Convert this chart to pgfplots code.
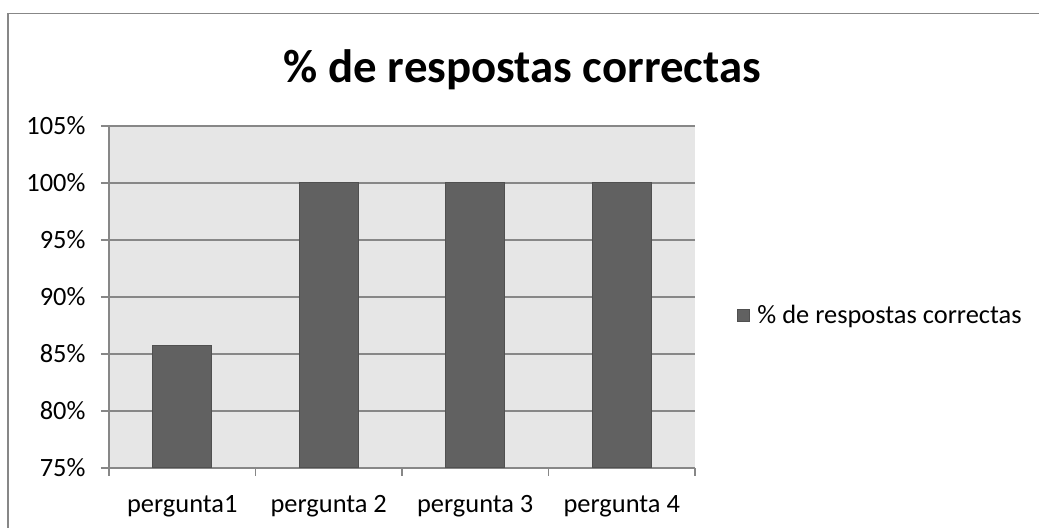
\documentclass[border=0pt]{standalone}
\usepackage{fontspec}
\setmainfont{Carlito}
\usepackage{pgfplots}
\pgfplotsset{compat=1.18}
\definecolor{bgc}{HTML}{E6E6E6}
\definecolor{barc}{HTML}{616161}
\definecolor{baredge}{HTML}{505050}
\definecolor{gridc}{HTML}{878787}
\begin{document}
\begin{tikzpicture}[x=1bp,y=1bp]
\useasboundingbox (0,0) rectangle (1039,528);
\draw[gridc, line width=1.5bp] (8,514.5) rectangle (1060,-20);
\node[font=\fontsize{47}{51}\selectfont\bfseries] at (522.5,458) {\% de respostas correctas};
\begin{axis}[
  at={(109bp,60bp)}, anchor=south west,
  scale only axis, width=586bp, height=342bp,
  font=\fontsize{26.5}{30}\selectfont,
  xmin=0, xmax=4, ymin=75, ymax=105,
  axis x line=bottom, axis y line=left,
  axis line style={gridc, line width=1.2bp, -},
  axis background/.style={fill=bgc},
  ytick={75,80,85,90,95,100,105},
  yticklabels={75\%,80\%,85\%,90\%,95\%,100\%,105\%},
  ymajorgrids, grid style={gridc, line width=1.2bp},
  xtick={0.5,1.5,2.5,3.5},
  xticklabels={pergunta1,pergunta 2,pergunta 3,pergunta 4},
  minor xtick={0,1,2,3,4},
  tick align=outside,
  major tick length=8bp, minor tick length=8bp,
  x tick style={draw=none},
  minor x tick style={draw=gridc, line width=1.2bp},
  y tick style={draw=gridc, line width=1.2bp},
  yticklabel style={xshift=-12bp},
  xticklabel style={yshift=-16bp},
  legend style={at={(1.067,0.447)}, anchor=west, draw=none, fill=none,
    font=\fontsize{26.5}{30}\selectfont},
  legend image code/.code={\draw[#1] (0bp,-6bp) rectangle (12bp,6bp);},
]
\addplot[ybar, bar width=0.4, fill=barc, draw=baredge, line width=1bp] coordinates {
  (0.5,85.71) (1.5,100) (2.5,100) (3.5,100)
};
\addlegendentry{\hspace{5bp}\% de respostas correctas}
\end{axis}
\end{tikzpicture}
\end{document}
